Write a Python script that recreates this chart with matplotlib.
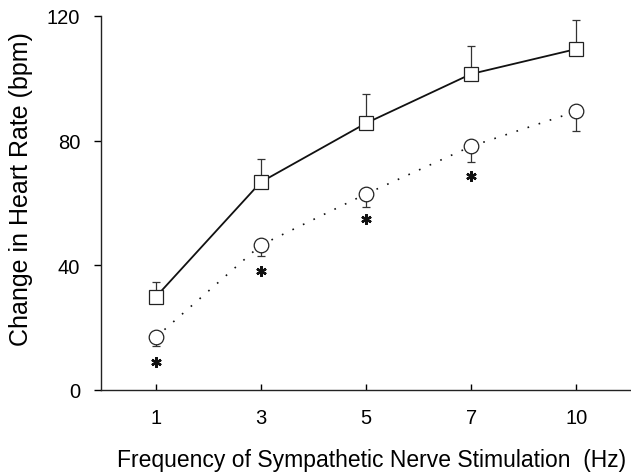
import matplotlib
matplotlib.use("Agg")
import matplotlib.pyplot as plt
import numpy as np

plt.rcParams['font.family'] = ['Liberation Sans', 'DejaVu Sans']

freq_labels = ["1", "3", "5", "7", "10"]
control = [29.8, 66.7, 85.6, 101.4, 109.4]
control_err = [4.9, 7.4, 9.3, 9.1, 9.4]
treated = [16.9, 46.5, 62.9, 78.2, 89.4]
treated_err = [2.7, 3.5, 4.1, 5.2, 6.2]
star_y = [9.1, 38.3, 54.9, 68.8]

fig = plt.figure(figsize=(6.31, 4.77), dpi=100)
ax = fig.add_axes([101/631, 86/477, 530/631, 374/477])
x = np.arange(len(freq_labels))

ax.errorbar(x, control, yerr=[np.zeros(len(control)), control_err], fmt='none',
            ecolor='#333333', elinewidth=0.9, capsize=2.9, capthick=0.9, zorder=1)
ax.errorbar(x, treated, yerr=[treated_err, np.zeros(len(treated))], fmt='none',
            ecolor='#333333', elinewidth=0.9, capsize=2.9, capthick=0.9, zorder=1)
ax.plot(x, control, '-', color='#111111', lw=1.3, marker='s', markersize=9.5,
        markerfacecolor='white', markeredgecolor='#222222', markeredgewidth=0.9, zorder=3)
ax.plot(x, treated, linestyle=(0, (1, 6)), color='#111111', lw=1.2, marker='o', markersize=10.5,
        markerfacecolor='white', markeredgecolor='#222222', markeredgewidth=0.9, zorder=3)
ax.plot(x[:len(star_y)], star_y, linestyle='none', marker=(6, 2, 0), markersize=7.5,
        markeredgewidth=1.7, color='#111111', zorder=3)

ax.set_xlim(-0.52, 4.52)
ax.set_ylim(0, 120)
ax.set_yticks([0, 40, 80, 120])
ax.set_xticks(x)
ax.set_xticklabels(freq_labels)
ax.spines['top'].set_visible(False)
ax.spines['right'].set_visible(False)
ax.spines['left'].set_linewidth(1.0)
ax.spines['bottom'].set_linewidth(1.0)
ax.spines['left'].set_color('#222222')
ax.spines['bottom'].set_color('#222222')
ax.tick_params(axis='y', direction='out', length=5, width=1, labelsize=14.5, pad=10)
ax.tick_params(axis='x', direction='in', length=4, width=1, labelsize=14.5, pad=13)
ax.set_ylabel("Change in Heart Rate (bpm)", fontsize=18)
ax.yaxis.set_label_coords(-0.128, 0.54)
ax.set_xlabel("Frequency of Sympathetic Nerve Stimulation  (Hz)", fontsize=16.5)
ax.xaxis.set_label_coords(0.51, -0.155)

fig.savefig("out.png", dpi=100)
